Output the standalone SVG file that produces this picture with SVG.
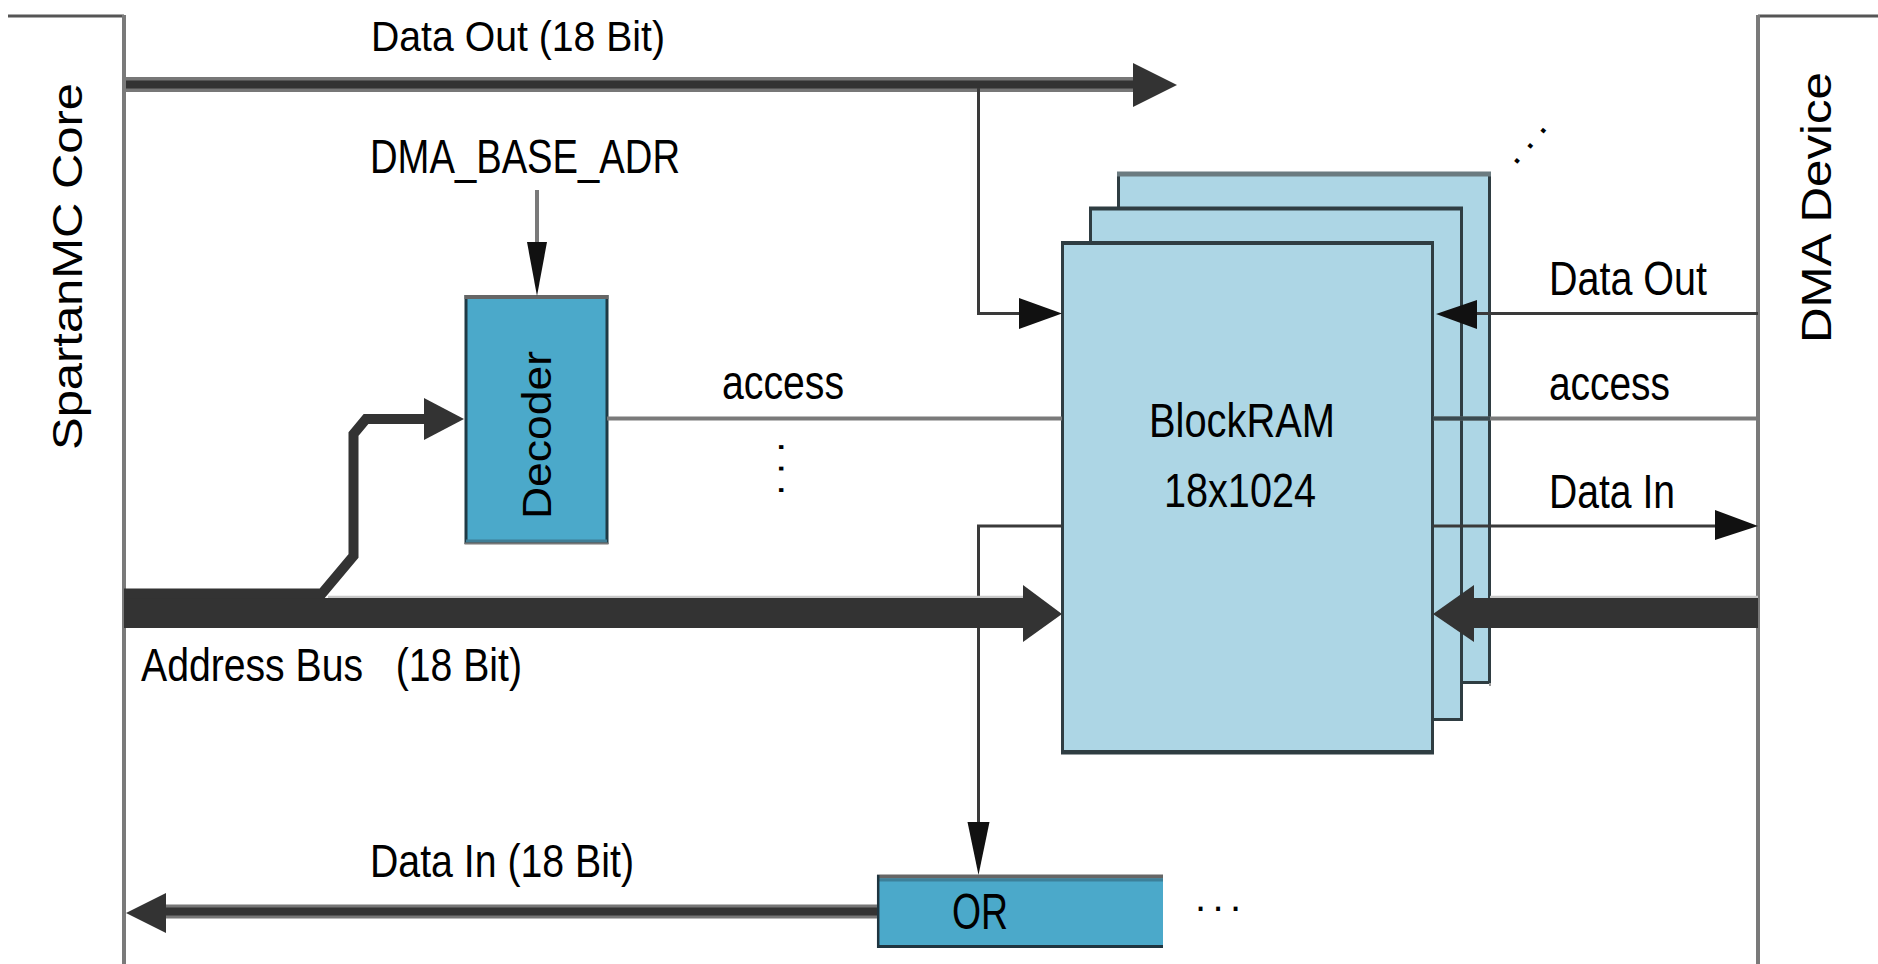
<svg xmlns="http://www.w3.org/2000/svg" width="1878" height="964" viewBox="0 0 1878 964">
<defs>
<style>
.t{font-family:"Liberation Sans",Arial,Helvetica,sans-serif;fill:#000}
.frame{stroke:#7a7a7a;stroke-width:4;fill:none}
.edge{stroke:#555;stroke-width:3;fill:none}
.thin{stroke:#3a3a3a;stroke-width:3;fill:none}
.gray{stroke:#7a7a7a;stroke-width:4;fill:none}
.head{fill:#111}
.bus{fill:#333}
.busline{stroke:#333;fill:none}
.busedge{stroke:#777;fill:none}
.ram{fill:#add6e5;stroke:#2f3d42;stroke-width:3}
.blk{fill:#4ba9ca}
.dots{font-family:"Liberation Sans",Arial,sans-serif;fill:#000;font-size:40px}
</style>
</defs>
<rect width="1878" height="964" fill="#fff"/>

<g id="spartanmc-core">
  <line class="edge" x1="8" y1="16" x2="124" y2="16"/>
  <line class="frame" x1="124" y1="15" x2="124" y2="964"/>
  <text class="t" font-size="42" text-anchor="middle" transform="translate(82,266.5) rotate(-90)" textLength="367" lengthAdjust="spacingAndGlyphs">SpartanMC Core</text>
</g>

<g id="dma-device">
  <line class="edge" x1="1758" y1="16" x2="1878" y2="16"/>
  <line class="frame" x1="1758" y1="15" x2="1758" y2="964"/>
  <text class="t" font-size="42" text-anchor="middle" transform="translate(1831,207.5) rotate(-90)" textLength="271" lengthAdjust="spacingAndGlyphs">DMA Device</text>
</g>

<g id="blockram">
  <rect class="ram" x="1118.5" y="174" width="371" height="508.5"/>
  <line x1="1117" y1="174" x2="1491" y2="174" stroke="#6b7b80" stroke-width="5"/>
  <line x1="1490" y1="683" x2="1490" y2="686" stroke="#999" stroke-width="2"/>
  <rect class="ram" x="1090.5" y="208.5" width="371" height="511"/>
  <line x1="1089" y1="208.5" x2="1463" y2="208.5" stroke="#2f3d42" stroke-width="4"/>
  <rect class="ram" x="1062.5" y="243" width="370" height="510"/>
  <line x1="1061" y1="243" x2="1434" y2="243" stroke="#2f3d42" stroke-width="4"/>
  <line x1="1061" y1="752" x2="1434" y2="752" stroke="#2f3d42" stroke-width="4"/>
  <text class="t" x="1149" y="437" font-size="48" textLength="186" lengthAdjust="spacingAndGlyphs">BlockRAM</text>
  <text class="t" x="1164" y="507" font-size="48" textLength="152" lengthAdjust="spacingAndGlyphs">18x1024</text>
  <text class="dots" transform="translate(1515,166.5) rotate(-49)" letter-spacing="8.9">...</text>
</g>

<g id="decoder">
  <rect class="blk" x="466" y="296.5" width="141" height="246" stroke="#1f3a45" stroke-width="3"/>
  <line x1="464.5" y1="297" x2="608.5" y2="297" stroke="#666" stroke-width="4"/>
  <line x1="466" y1="541" x2="607" y2="541" stroke="#3f7e96" stroke-width="3"/>
  <line x1="464.5" y1="543.5" x2="608.5" y2="543.5" stroke="#777" stroke-width="2"/>
  <text class="t" font-size="40" text-anchor="middle" transform="translate(551,435) rotate(-90)" textLength="168" lengthAdjust="spacingAndGlyphs">Decoder</text>
</g>

<g id="or-gate">
  <rect class="blk" x="877" y="875" width="286" height="73"/>
  <line x1="877" y1="876.5" x2="1163" y2="876.5" stroke="#666" stroke-width="4"/>
  <line x1="877" y1="880" x2="1163" y2="880" stroke="#3c8099" stroke-width="3"/>
  <line x1="878.2" y1="875" x2="878.2" y2="948" stroke="#1f3540" stroke-width="2.5"/>
  <line x1="877" y1="946.5" x2="1163" y2="946.5" stroke="#1f3540" stroke-width="3"/>
  <text class="t" x="952" y="929" font-size="50" textLength="56" lengthAdjust="spacingAndGlyphs">OR</text>
  <text class="dots" x="1195" y="911" letter-spacing="6.4">...</text>
</g>

<g id="connectors">
  <!-- Data Out (18 Bit) bus -->
  <line class="busedge" stroke-width="15" x1="126" y1="84.5" x2="1136" y2="84.5"/>
  <line class="busline" stroke-width="8" x1="126" y1="84.5" x2="1136" y2="84.5"/>
  <polygon class="bus" points="1133,63 1177,85 1133,107"/>
  <!-- branch to BlockRAM -->
  <polyline class="thin" points="978.5,88 978.5,313.5 1022,313.5"/>
  <polygon class="head" points="1019,298 1062,313.5 1019,329"/>
  <!-- DMA_BASE_ADR -->
  <line class="gray" stroke-width="3" x1="537" y1="190" x2="537" y2="246"/>
  <polygon class="head" points="527,242 547,242 537,296"/>
  <!-- access lines -->
  <line class="gray" x1="607" y1="418.5" x2="1062" y2="418.5"/>
  <line class="gray" x1="1433" y1="418.5" x2="1758" y2="418.5"/>
  <line stroke="#3a4a50" stroke-width="4" x1="1433" y1="418.5" x2="1490" y2="418.5"/>
  <!-- Data Out (DMA) -->
  <line class="thin" x1="1474" y1="313.5" x2="1758" y2="313.5"/>
  <polygon class="head" points="1477,300 1436,314 1477,329"/>
  <!-- Data In (DMA) -->
  <line class="thin" x1="1433" y1="526" x2="1718" y2="526"/>
  <polygon class="head" points="1715,510 1758,526 1715,540"/>
  <!-- Data In to OR -->
  <polyline class="thin" points="1062,526 978.5,526 978.5,826"/>
  <polygon class="head" points="967.5,822 989.5,822 978.5,875"/>
  <!-- Address bus (core side) -->
  <line stroke="#c8c8c8" stroke-width="2.5" x1="328" y1="597" x2="1023" y2="597"/>
  <rect class="bus" x="124" y="598" width="901" height="30"/>
  <polygon class="bus" points="1023,585 1062,614 1023,642"/>
  <polyline fill="none" stroke="#333" stroke-width="10" stroke-linejoin="miter" points="124,593.5 322,593.5 353.5,556 353.5,434 366,419 427,419"/>
  <polygon class="bus" points="424,398 464,419 424,440"/>
  <!-- Address bus (DMA side) -->
  <line stroke="#c8c8c8" stroke-width="2.5" x1="1490" y1="597" x2="1758" y2="597"/>
  <rect class="bus" x="1472" y="598" width="286" height="30"/>
  <polygon class="bus" points="1474,585 1433,614 1474,642"/>
  <!-- Data In (18 Bit) bus -->
  <line class="busedge" stroke-width="14" x1="163" y1="911.5" x2="877" y2="911.5"/>
  <line class="busline" stroke-width="8" x1="163" y1="911.5" x2="877" y2="911.5"/>
  <polygon class="bus" points="166,893 126,913 166,933"/>
</g>

<g id="labels">
  <text class="t" x="371" y="50.5" font-size="43" textLength="294" lengthAdjust="spacingAndGlyphs">Data Out (18 Bit)</text>
  <text class="t" x="370" y="173" font-size="48" textLength="310" lengthAdjust="spacingAndGlyphs">DMA_BASE_ADR</text>
  <text class="t" x="722" y="399" font-size="48" textLength="122" lengthAdjust="spacingAndGlyphs">access</text>
  <text class="dots" transform="translate(779,441.5) rotate(90)" letter-spacing="10.4">...</text>
  <text class="t" x="1549" y="295" font-size="48" textLength="158" lengthAdjust="spacingAndGlyphs">Data Out</text>
  <text class="t" x="1549" y="400" font-size="48" textLength="121" lengthAdjust="spacingAndGlyphs">access</text>
  <text class="t" x="1549" y="508" font-size="48" textLength="126" lengthAdjust="spacingAndGlyphs">Data In</text>
  <text class="t" x="141" y="681" font-size="46" textLength="381" lengthAdjust="spacingAndGlyphs" xml:space="preserve" style="white-space:pre">Address Bus   (18 Bit)</text>
  <text class="t" x="370" y="877" font-size="46" textLength="264" lengthAdjust="spacingAndGlyphs">Data In (18 Bit)</text>
</g>
</svg>
